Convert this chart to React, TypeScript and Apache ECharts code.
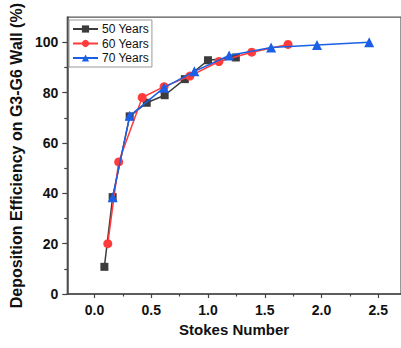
import React, { useEffect, useRef } from "react";
import * as echarts from "echarts";

const xTicks = [0, 0.5, 1.0, 1.5, 2.0, 2.5];
const xMinorTicks = [0.25, 0.75, 1.25, 1.75, 2.25];
const yTicks = [0, 20, 40, 60, 80, 100];
const yMinorTicks = [10, 30, 50, 70, 90];

const stokes50 = [0.087, 0.16, 0.31, 0.46, 0.618, 0.796, 1.0, 1.245];
const eff50 = [10.8, 38.5, 70.6, 76.0, 79.0, 85.4, 92.9, 94.0];

const stokes60 = [0.117, 0.213, 0.42, 0.613, 0.84, 1.096, 1.385, 1.705];
const eff60 = [20.0, 52.5, 78.1, 82.4, 86.6, 92.4, 96.1, 99.2];

const stokes70 = [0.16, 0.31, 0.613, 0.88, 1.186, 1.556, 1.96, 2.42];
const eff70 = [38.5, 70.8, 82.0, 88.5, 94.8, 98.0, 99.0, 100.1];

const names = ["50 Years", "60 Years", "70 Years"];
const colors = ["#3c3c3c", "#ff3b3b", "#1a5fe6"];

const pair = (xs: number[], ys: number[]) => xs.map((x, i) => [x, ys[i]]);

export default function App() {
  const ref = useRef<HTMLDivElement>(null);
  useEffect(() => {
    if (!ref.current) return;
    const chart = echarts.init(ref.current, null, { renderer: "svg" });
    const axisColor = "#444";
    const labelStyle = {
      fontFamily: "Liberation Sans, Arial, sans-serif",
      fontWeight: "bold" as const,
      fontSize: 14,
      color: "#111",
    };
    chart.setOption({
      animation: false,
      grid: {
        left: 66,
        top: 16,
        width: 336,
        height: 278,
        show: true,
        borderColor: "#555",
        borderWidth: 1.2,
        backgroundColor: "transparent",
      },
      legend: {
        data: names,
        orient: "vertical",
        left: 69,
        top: 20,
        padding: [3, 3, 3, 3],
        itemGap: 2.5,
        itemWidth: 25,
        itemHeight: 9,
        borderColor: "#999",
        borderWidth: 1,
        textStyle: {
          fontFamily: "Liberation Sans, Arial, sans-serif",
          fontSize: 12,
          color: "#111",
          padding: [0, 0, 0, -1],
        },
      },
      xAxis: [
        {
          type: "value",
          min: -0.24,
          max: 2.7,
          name: "Stokes Number",
          nameLocation: "middle",
          nameGap: 22,
          nameTextStyle: { ...labelStyle, fontSize: 15, verticalAlign: "top" },
          axisLine: { show: true, onZero: false, lineStyle: { color: axisColor, width: 1.5 } },
          axisTick: {
            show: true,
            inside: false,
            length: 4,
            customValues: xTicks,
            lineStyle: { color: axisColor, width: 1.2 },
          },
          axisLabel: {
            ...labelStyle,
            margin: 9,
            customValues: xTicks,
            formatter: (v: number) => v.toFixed(1),
          },
          splitLine: { show: false },
        },
        {
          type: "value",
          min: -0.24,
          max: 2.7,
          position: "bottom",
          axisLine: { show: false, onZero: false },
          axisTick: {
            show: true,
            inside: false,
            length: 2.5,
            customValues: xMinorTicks,
            lineStyle: { color: axisColor, width: 1.2 },
          },
          axisLabel: { show: false },
          splitLine: { show: false },
        },
      ],
      yAxis: [
        {
          type: "value",
          min: 0,
          max: 110,
          name: "Deposition Efficiency on G3-G6 Wall (%)",
          nameLocation: "middle",
          nameGap: 32,
          nameTextStyle: { ...labelStyle, fontSize: 16 },
          axisLine: { show: true, onZero: false, lineStyle: { color: axisColor, width: 1.5 } },
          axisTick: {
            show: true,
            inside: false,
            length: 5,
            customValues: yTicks,
            lineStyle: { color: axisColor, width: 1.2 },
          },
          axisLabel: { ...labelStyle, margin: 9, customValues: yTicks },
          splitLine: { show: false },
        },
        {
          type: "value",
          min: 0,
          max: 110,
          position: "left",
          axisLine: { show: false, onZero: false },
          axisTick: {
            show: true,
            inside: false,
            length: 3,
            customValues: yMinorTicks,
            lineStyle: { color: axisColor, width: 1.2 },
          },
          axisLabel: { show: false },
          splitLine: { show: false },
        },
      ],
      series: [
        {
          name: names[0],
          type: "line",
          data: pair(stokes50, eff50),
          symbol: "rect",
          symbolSize: 8,
          color: colors[0],
          lineStyle: { width: 1.5 },
          z: 2,
        },
        {
          name: names[1],
          type: "line",
          data: pair(stokes60, eff60),
          symbol: "circle",
          symbolSize: 9,
          color: colors[1],
          lineStyle: { width: 1.5 },
          z: 3,
        },
        {
          name: names[2],
          type: "line",
          data: pair(stokes70, eff70),
          symbol: "triangle",
          symbolSize: 10,
          color: colors[2],
          lineStyle: { width: 1.5 },
          z: 4,
        },
      ],
    });
    return () => chart.dispose();
  }, []);
  return <div ref={ref} style={{ width: 401, height: 348, position: "absolute", left: 0, top: 0 }} />;
}
